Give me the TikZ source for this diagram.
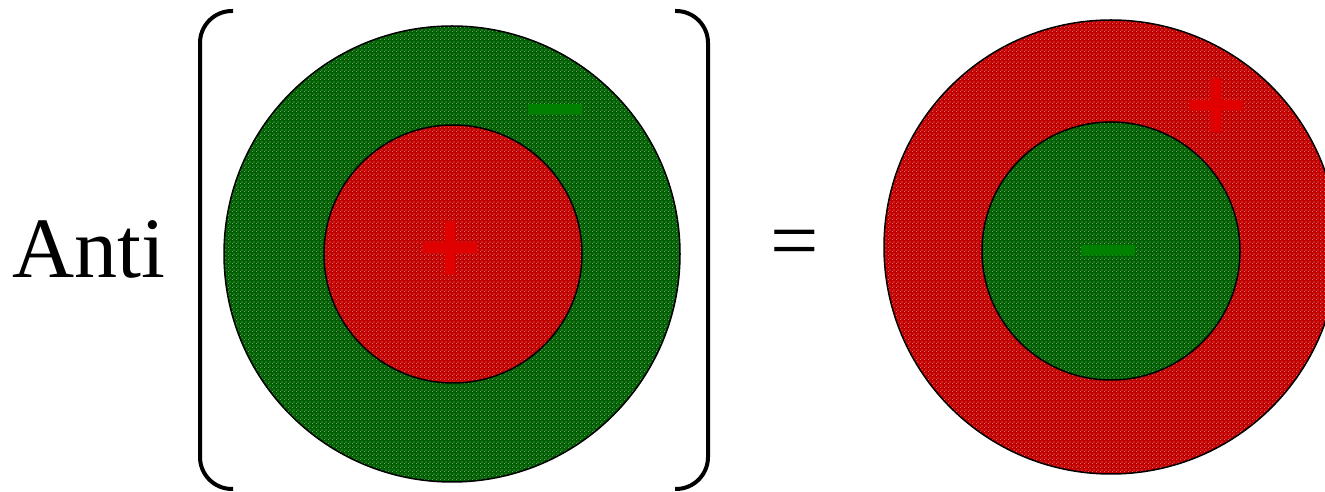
\documentclass[tikz,border=0pt]{standalone}
\usepackage{fontspec}
\setmainfont{Liberation Serif}
\newfontfamily\signfont[FakeBold=1.2]{DejaVu Sans Bold}
\usetikzlibrary{patterns}
\pgfdeclarepatternformonly{wdots}{\pgfpointorigin}{\pgfqpoint{4pt}{4pt}}{\pgfqpoint{4pt}{4pt}}{%
 \pgfpathrectangle{\pgfqpoint{0pt}{0pt}}{\pgfqpoint{0.9pt}{0.9pt}}%
 \pgfpathrectangle{\pgfqpoint{2pt}{2pt}}{\pgfqpoint{0.9pt}{0.9pt}}%
 \pgfusepath{fill}}
\definecolor{redc}{RGB}{195,0,0}
\definecolor{greenc}{RGB}{0,95,0}
\definecolor{signred}{RGB}{225,0,0}
\definecolor{signgreen}{RGB}{0,130,0}
\begin{document}
\begin{tikzpicture}[x=1pt,y=1pt,
 disc/.style={circle, draw=black, line width=1.5pt, inner sep=0pt, minimum size=#1},
 redfill/.style={preaction={fill=redc}, pattern=wdots, pattern color=white},
 greenfill/.style={preaction={fill=greenc}, pattern=wdots, pattern color=white},
 sign/.style={inner sep=0pt, anchor=base, font=\signfont\fontsize{84}{84}\selectfont},
 bigtext/.style={inner sep=0pt, font=\fontsize{86}{86}\selectfont},
 bracket/.style={line width=4pt, rounded corners=32pt}]
\useasboundingbox (0,0) rectangle (1325,492);
% left side
\node[disc=456, greenfill] (outerL) at (452,238) {};
\node[disc=258, redfill] (innerL) at (453,238) {};
\node[sign, text=signred] (plusL) at (450,218) {+};
\node[sign, text=signgreen] (minusL) at (555,356.5) {−};
% right side
\node[disc=454, redfill] (outerR) at (1111,245) {};
\node[disc=258, greenfill] (innerR) at (1111,241) {};
\node[sign, text=signred] (plusR) at (1216,360.5) {+};
\node[sign, text=signgreen] (minusR) at (1108,215.5) {−};
% brackets
\draw[bracket] (233,481) -- (200,481) -- (200,3) -- (233,3);
\draw[bracket] (675,481) -- (708,481) -- (708,3) -- (675,3);
% text
\node[bigtext, anchor=base west] (anti) at (12,214) {Anti};
\node[bigtext] (eq) at (795,242) {=};
\end{tikzpicture}
\end{document}
